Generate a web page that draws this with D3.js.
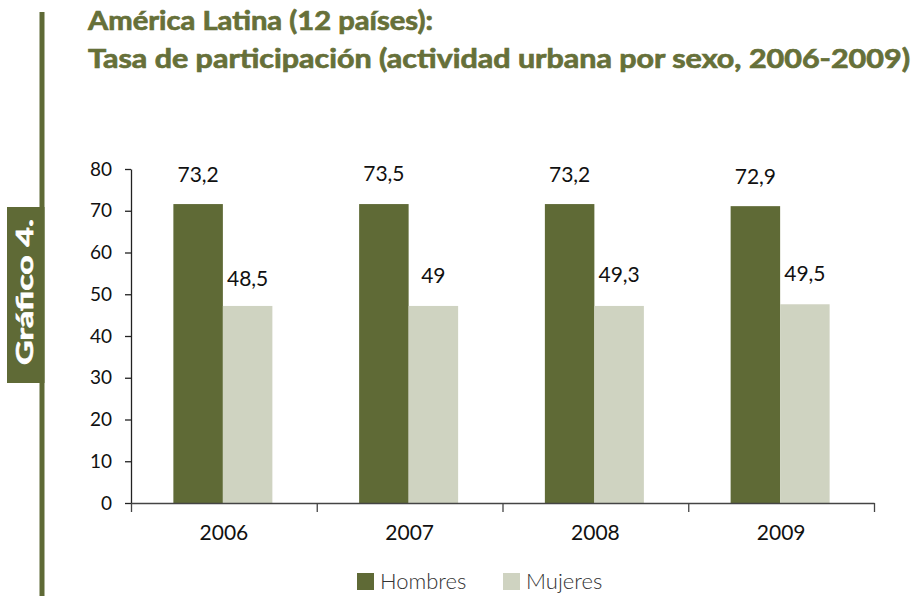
<!DOCTYPE html>
<html>
<head>
<meta charset="utf-8">
<title>Gráfico 4</title>
<script src="https://d3js.org/d3.v7.min.js"></script>
<style>
  body { margin: 0; background: #fff; }
  svg { display: block; font-family: Lato, "Open Sans", sans-serif; }
</style>
</head>
<body>
<div class="chart"></div>
<script>
const years = ['2006', '2007', '2008', '2009'];
const series = ['Hombres', 'Mujeres'];
// bar heights as drawn in the picture
const hombres = [71.6, 71.6, 71.6, 71.1];
const mujeres = [47.2, 47.2, 47.2, 47.6];
// printed data labels
const hombresLabel = [73.2, 73.5, 73.2, 72.9];
const mujeresLabel = [48.5, 49, 49.3, 49.5];
const yTicks = [0, 10, 20, 30, 40, 50, 60, 70, 80];

const w = 915, h = 596;
const olive = '#5f6a36';
const light = '#cfd3c1';
const colors = [olive, light];

const svg = d3.select('.chart')
  .append('svg')
  .attr('width', w)
  .attr('height', h);

// left decoration
svg.append('rect')
  .attr('x', 39.5).attr('y', 12)
  .attr('width', 5).attr('height', h - 12)
  .attr('fill', olive);
svg.append('rect')
  .attr('x', 7).attr('y', 207)
  .attr('width', 37.5).attr('height', 176)
  .attr('fill', olive);
svg.append('text')
  .attr('transform', 'translate(33,292) rotate(-90)')
  .attr('text-anchor', 'middle')
  .attr('fill', '#fff')
  .attr('stroke', '#fff')
  .attr('stroke-width', 0.6)
  .attr('font-weight', 'bold')
  .attr('font-size', 22)
  .attr('textLength', 146)
  .attr('lengthAdjust', 'spacingAndGlyphs')
  .text('Gráfico 4.');

// title
const titleLines = ['América Latina (12 países):', 'Tasa de participación (actividad urbana por sexo, 2006-2009)'];
const titleLen = [345, 822];
svg.selectAll('text.title')
  .data(titleLines)
  .enter()
  .append('text')
  .attr('class', 'title')
  .attr('x', 88)
  .attr('y', (d, i) => 30 + i * 38)
  .attr('fill', '#667039')
  .attr('stroke', '#667039')
  .attr('stroke-width', 0.7)
  .attr('font-weight', 'bold')
  .attr('font-size', 26)
  .attr('textLength', (d, i) => titleLen[i])
  .attr('lengthAdjust', 'spacingAndGlyphs')
  .text(d => d);

// scales
const x0 = 131, x1 = 874;
const xScale = d3.scaleBand().domain(years).range([x0, x1]).padding(0);
const barW = 49.5;
const xInner = d3.scaleBand().domain(series)
  .range([xScale.bandwidth() / 2 - barW - 1, xScale.bandwidth() / 2 + barW - 1]);
const yScale = d3.scaleLinear().domain([0, 80]).range([503, 169]);

const rows = years.map((y, i) => ({
  year: y,
  vals: [
    { s: 'Hombres', v: hombres[i], lab: hombresLabel[i] },
    { s: 'Mujeres', v: mujeres[i], lab: mujeresLabel[i] }
  ]
}));

const groups = svg.selectAll('g.year')
  .data(rows)
  .enter()
  .append('g')
  .attr('class', 'year')
  .attr('transform', d => 'translate(' + xScale(d.year) + ',0)');

groups.selectAll('rect')
  .data(d => d.vals)
  .enter()
  .append('rect')
  .attr('x', d => xInner(d.s))
  .attr('width', xInner.bandwidth())
  .attr('y', d => yScale(d.v))
  .attr('height', d => yScale(0) - yScale(d.v))
  .attr('fill', (d, i) => colors[i]);

groups.selectAll('text.lab')
  .data(d => d.vals)
  .enter()
  .append('text')
  .attr('class', 'lab')
  .attr('x', d => xInner(d.s) + xInner.bandwidth() / 2)
  .attr('y', d => yScale(d.lab) - 15)
  .attr('text-anchor', 'middle')
  .attr('font-size', 21)
  .attr('fill', '#111')
  .text(d => String(d.lab).replace('.', ','));

// y axis
const yAxis = d3.axisLeft(yScale)
  .tickValues(yTicks)
  .tickSize(6)
  .tickSizeOuter(0)
  .tickPadding(13);
const gy = svg.append('g')
  .attr('transform', 'translate(' + x0 + ',0)')
  .call(yAxis);
gy.selectAll('text').attr('font-size', 19).attr('fill', '#111').attr('font-family', 'Lato, sans-serif');
gy.selectAll('line, path').attr('stroke', '#222').attr('stroke-width', 1.3);

// x axis: boundary ticks
const xEdges = d3.scaleLinear().domain([0, years.length]).range([x0, x1]);
const gxTicks = svg.append('g')
  .attr('transform', 'translate(0,503)')
  .call(d3.axisBottom(xEdges).ticks(years.length).tickSize(9).tickSizeOuter(0).tickFormat(''));
gxTicks.selectAll('line, path').attr('stroke', '#444').attr('stroke-width', 1.3);

// x axis: year labels
const gx = svg.append('g')
  .attr('transform', 'translate(0,503)')
  .call(d3.axisBottom(xScale).tickSize(0).tickPadding(22));
gx.select('.domain').remove();
gx.selectAll('text').attr('font-size', 21).attr('fill', '#111').attr('font-family', 'Lato, sans-serif');

// legend
const legendX = [357, 503];
const legend = svg.selectAll('g.legend')
  .data(series)
  .enter()
  .append('g')
  .attr('class', 'legend')
  .attr('transform', (d, i) => 'translate(' + legendX[i] + ',573)');
legend.append('rect')
  .attr('width', 17).attr('height', 17)
  .attr('fill', (d, i) => colors[i]);
legend.append('text')
  .attr('x', 23).attr('y', 16)
  .attr('font-size', 22)
  .attr('font-weight', 300)
  .attr('fill', '#333')
  .text(d => d);
</script>
</body>
</html>
